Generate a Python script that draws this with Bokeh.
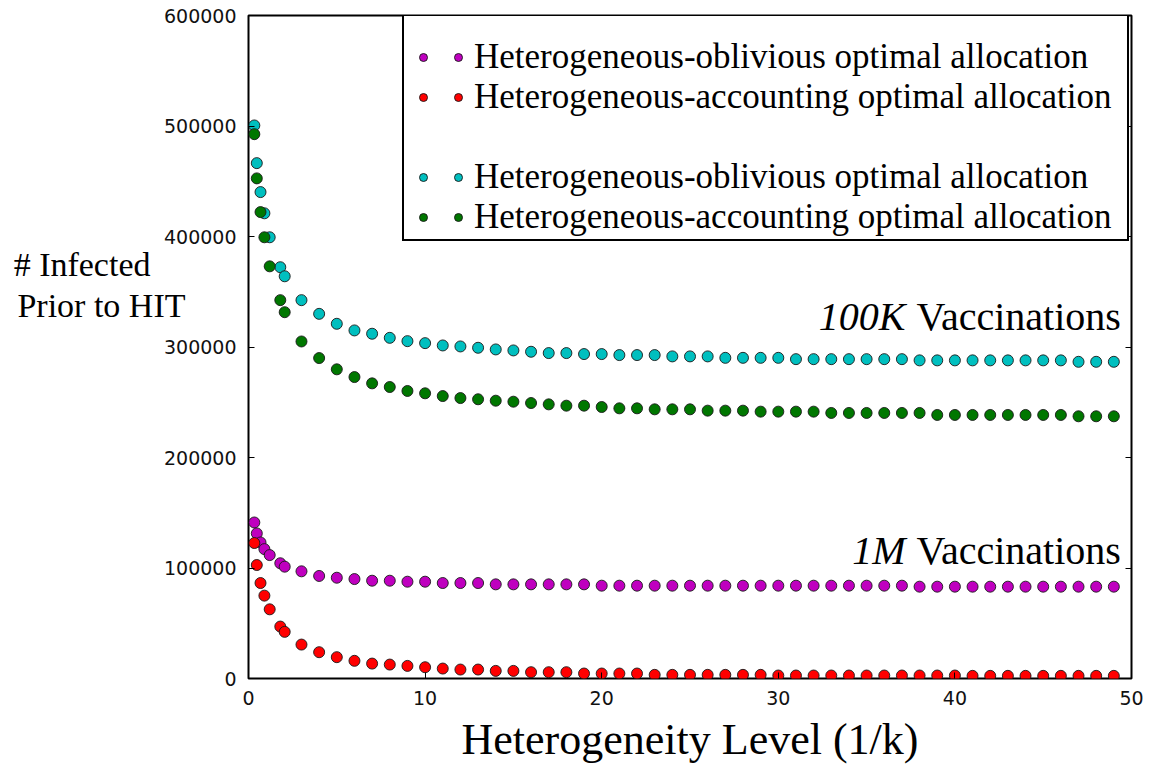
from bokeh.plotting import figure
from bokeh.models import (Range1d, LinearAxis, SingleIntervalTicker, FixedTicker,
                          BasicTickFormatter, Legend, LegendItem, Label)
from bokeh.embed import file_html
from bokeh.resources import INLINE

# ---------------- data ----------------
x_vals = [0.33, 0.47, 0.68, 0.9, 1.2, 1.8, 2.05,
          3, 4, 5, 6, 7, 8, 9, 10, 11, 12, 13, 14, 15, 16, 17, 18, 19, 20,
          21, 22, 23, 24, 25, 26, 27, 28, 29, 30, 31, 32, 33, 34, 35, 36, 37, 38, 39, 40,
          41, 42, 43, 44, 45, 46, 47, 48, 49]

# 100K vaccinations, heterogeneous-oblivious (cyan)
obl_100k = [500500, 466400, 440200, 421000, 399300, 372200, 364000,
            342400, 330000, 321000, 315000, 312000, 308300, 305300, 303500, 301400, 300500,
            299300, 297800, 296900, 295700, 294500, 294500, 293600, 293600,
            292700, 292700, 292700, 291500, 291500, 291500, 290200, 290200, 290200, 290200,
            289000, 289000, 289000, 289000, 289000, 289000, 289000, 287900, 287900, 287900,
            287900, 287900, 287900, 287900, 287900, 287900, 286600, 286600, 286600]

# 100K vaccinations, heterogeneous-accounting (green)
acc_100k = [492600, 452600, 422100, 399300, 373000, 342400, 331500,
            305000, 290000, 279800, 272800, 267100, 263800, 260200, 258100, 255600, 253800,
            252700, 251400, 250500, 249300, 248100, 246900, 246900, 245700,
            244500, 244500, 243600, 243600, 243600, 242400, 242400, 242400, 241500, 241500,
            241500, 241500, 240300, 240300, 240300, 240300, 240300, 240300, 238500, 238500,
            238500, 238500, 238500, 238500, 238500, 238500, 237300, 237300, 237300]

# 1M vaccinations, heterogeneous-oblivious (magenta)
obl_1m = [141200, 131300, 123100, 117100, 111700, 104300, 101200,
          97000, 92800, 91200, 90000, 88500, 88500, 87600, 87600, 86400, 86400,
          86400, 85200, 85200, 85200, 85200, 85200, 85200, 84000,
          84000, 84000, 84000, 84000, 84000, 84000, 84000, 84000, 84000, 84000,
          84000, 84000, 84000, 84000, 84000, 84000, 84000, 83100, 83100, 83100,
          83100, 83100, 83100, 83100, 83100, 83100, 83100, 83100, 83100]

# 1M vaccinations, heterogeneous-accounting (red)
acc_1m = [122600, 102700, 86400, 75000, 62600, 47000, 42200,
          30700, 23800, 19300, 16000, 13500, 12600, 11400, 10200, 9000, 8100,
          8100, 6900, 6900, 5700, 5700, 5700, 4500, 4500,
          4500, 4500, 3300, 3300, 3300, 3300, 3300, 3300, 3300, 2700,
          2700, 2700, 2700, 2700, 2700, 2700, 2700, 2700, 2700, 2700,
          2400, 2400, 2400, 2400, 2400, 2400, 2400, 2400, 2400]

x_ticks_interval = 10
y_ticks_interval = 100000
label_obl = "Heterogeneous-oblivious optimal allocation"
label_acc = "Heterogeneous-accounting optimal allocation"
y_title_line1 = "# Infected"
y_title_line2 = "Prior to HIT"

SERIF = "Liberation Serif"
SANS = "DejaVu Sans"

p = figure(width=1152, height=776, output_backend="svg", toolbar_location=None,
           x_range=Range1d(0, 50), y_range=Range1d(0, 600000),
           min_border_left=248, min_border_right=21, min_border_top=15, min_border_bottom=98)
p.xgrid.visible = False
p.ygrid.visible = False
p.outline_line_color = "black"
p.outline_line_width = 2
p.outline_line_alpha = 1.0
p.background_fill_color = "white"
p.border_fill_color = "white"

def style_axis(ax, show_labels):
    ax.axis_line_color = None
    ax.major_tick_in = 6
    ax.major_tick_out = 0
    ax.major_tick_line_color = "black"
    ax.major_tick_line_width = 1
    ax.minor_tick_line_color = None
    if show_labels:
        ax.major_label_text_font = SANS
        ax.major_label_text_font_size = "19px"
        ax.major_label_text_color = "#111111"
        ax.major_label_standoff = 8
    else:
        ax.major_label_text_color = None
        ax.major_label_text_font_size = "1px"
        ax.major_label_standoff = 0

p.xaxis.ticker = SingleIntervalTicker(interval=x_ticks_interval)
p.yaxis.ticker = SingleIntervalTicker(interval=y_ticks_interval)
p.yaxis.formatter = BasicTickFormatter(use_scientific=False)
style_axis(p.xaxis[0], True)
style_axis(p.yaxis[0], True)
p.xaxis.axis_label = "Heterogeneity Level (1/k)"
p.xaxis.axis_label_text_font = SERIF
p.xaxis.axis_label_text_font_size = "44px"
p.xaxis.axis_label_text_font_style = "normal"
p.xaxis.axis_label_text_color = "black"
p.xaxis.axis_label_standoff = 7

top_ax = LinearAxis(ticker=SingleIntervalTicker(interval=x_ticks_interval))
style_axis(top_ax, False)
p.add_layout(top_ax, "above")
right_ax = LinearAxis(ticker=SingleIntervalTicker(interval=y_ticks_interval))
style_axis(right_ax, False)
p.add_layout(right_ax, "right")

# horizontal, two-line y-axis title: each line is the single tick label of an
# extra label-only axis on the left (placed at the height where it sits in the figure)
def title_axis(pos, text, standoff):
    ax = LinearAxis(ticker=FixedTicker(ticks=[pos]), major_label_overrides={pos: text})
    ax.axis_line_color = None
    ax.major_tick_line_color = None
    ax.minor_tick_line_color = None
    ax.major_tick_in = 0
    ax.major_tick_out = 0
    ax.major_label_text_font = SERIF
    ax.major_label_text_font_size = "34px"
    ax.major_label_text_color = "black"
    ax.major_label_standoff = standoff
    p.add_layout(ax, "left")

title_axis(337600, y_title_line2, -25)
title_axis(374700, y_title_line1, -136)

mk = dict(size=11, line_color="#1a1a1a", line_width=1, line_alpha=0.9)
r_cyan = p.scatter(x_vals, obl_100k, fill_color="#00BFBF", **mk)
r_green = p.scatter(x_vals, acc_100k, fill_color="#007700", **mk)
r_mag = p.scatter(x_vals, obl_1m, fill_color="#BF00BF", **mk)
r_red = p.scatter(x_vals, acc_1m, fill_color="#FF0000", **mk)
r_dummy = p.scatter(x=[], y=[], fill_alpha=0, line_alpha=0)

# legend box (border + background)
box = Legend(items=[LegendItem(label=" ", renderers=[r_dummy])],
             location=(154, 437), padding=0, margin=0, spacing=0,
             glyph_width=1, glyph_height=223, label_standoff=0,
             label_width=722, label_height=223,
             border_line_color="black", border_line_width=2, border_line_alpha=1.0,
             background_fill_color="white", background_fill_alpha=1.0)
p.add_layout(box, "center")

rows = dict(padding=0, margin=0, spacing=0, glyph_width=20, glyph_height=40,
            label_height=40, border_line_color=None, background_fill_alpha=0.0)

leg_text = Legend(items=[LegendItem(label=label_obl, renderers=[r_mag]),
                         LegendItem(label=label_acc, renderers=[r_red]),
                         LegendItem(label=" ", renderers=[r_dummy]),
                         LegendItem(label=label_obl, renderers=[r_cyan]),
                         LegendItem(label=label_acc, renderers=[r_green])],
                  location=(165, 441), label_standoff=41,
                  label_text_font=SERIF, label_text_font_size="35px",
                  label_text_color="black", **rows)
p.add_layout(leg_text, "center")

leg_marks = Legend(items=[LegendItem(label=" ", renderers=[r_mag]),
                          LegendItem(label=" ", renderers=[r_red]),
                          LegendItem(label=" ", renderers=[r_dummy]),
                          LegendItem(label=" ", renderers=[r_cyan]),
                          LegendItem(label=" ", renderers=[r_green])],
                   location=(200, 441), label_standoff=0, label_width=1,
                   label_text_font=SERIF, label_text_font_size="35px", **rows)
p.add_layout(leg_marks, "center")

# annotations
def lab(text, x, y, size, style="normal", align="left"):
    p.add_layout(Label(text=text, x=x, y=y, x_units="screen", y_units="screen",
                       text_font=SERIF, text_font_size=size, text_font_style=style,
                       text_align=align, text_baseline="alphabetic", text_color="black"))

lab("100K", 657, 362, "40px", "italic", "right")
lab("Vaccinations", 668, 362, "40px")
lab("1M", 657, 128, "40px", "italic", "right")
lab("Vaccinations", 668, 128, "40px")

open("out.html", "w").write(file_html(p, INLINE))
